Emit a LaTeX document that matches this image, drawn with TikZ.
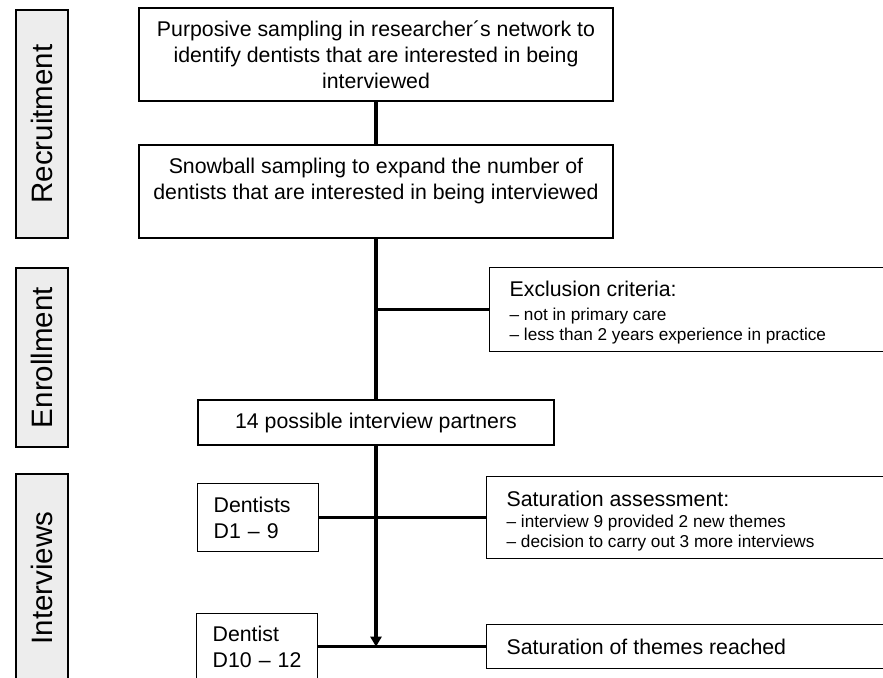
\documentclass[tikz,border=0pt]{standalone}
\usepackage{fontspec}
\setmainfont{Liberation Sans}
\usetikzlibrary{arrows.meta}

\tikzset{
  stagebox/.style={draw, line width=1.4pt, fill=black!7, rotate=90, minimum height=52pt,
    inner sep=0pt, font=\fontsize{29.5}{34}\selectfont},
  box/.style={draw, line width=1.3pt, inner sep=0pt, font=\fontsize{21.3}{26}\selectfont},
  sidebox/.style={box, anchor=north west, align=left, inner xsep=15pt,
    execute at begin node={\spaceskip=0pt\xspaceskip=0pt}},
  conn/.style={line width=3.5pt},
}
\newcommand{\listfont}{\fontsize{17.2}{20}\selectfont\spaceskip=0pt\xspaceskip=0pt}
\newcommand{\itemlist}[1]{{\listfont\begin{tabular}[t]{@{}l@{}}#1\end{tabular}}}

\begin{document}
\begin{tikzpicture}[x=1pt,y=-1pt]
\useasboundingbox (0,0) rectangle (883,677);
\clip (0,0) rectangle (883,677);

% stages
\node[stagebox, minimum width=228pt] (recruit) at (42,124) {Recruitment};
\node[stagebox, minimum width=179pt] (enroll) at (42,357.5) {Enrollment};
\node[stagebox, minimum width=208pt] (interv) at (42,578) {Interviews};

% main column
\node[box, minimum width=474pt, minimum height=93pt, align=center] (purposive) at (376,54.5)
  {Purposive sampling in researcher´s network to\\identify dentists that are interested in being\\interviewed};
\node[box, minimum width=474pt, minimum height=93pt, align=center] (snowball) at (376,191.5)
  {Snowball sampling to expand the number of\\dentists that are interested in being interviewed\\\mbox{}};
\node[box, minimum width=356pt, minimum height=45pt] (partners) at (376,422.5)
  {14 possible interview partners};

\node[box, anchor=north west, minimum width=120pt, minimum height=68pt, text width=89pt,
  align=left, inner xsep=16pt] (dentA) at (197,483) {Dentists\\D1 -- 9};
\node[box, anchor=north west, minimum width=120pt, minimum height=66pt, text width=89pt,
  align=left, inner xsep=16pt] (dentB) at (196,613) {Dentist\\D10 -- 12};

% right column
\node[sidebox, minimum width=430pt, minimum height=84pt, text width=390pt] (exclusion) at (489,267)
  {\rule{0pt}{23pt}Exclusion criteria:\\[-2pt]\itemlist{-- not in primary care\\-- less than 2 years experience in practice}};
\node[sidebox, minimum width=430pt, minimum height=82pt, text width=390pt, inner xsep=16pt] (assess) at (486,476)
  {\rule{0pt}{25pt}Saturation assessment:\\[-5pt]\itemlist{-- interview 9 provided 2 new themes\\-- decision to carry out 3 more interviews}};
\node[sidebox, minimum width=430pt, minimum height=44pt, text width=390pt, inner xsep=16pt] (themes) at (486,624)
  {Saturation of themes reached};

% connectors
\draw[conn] (purposive) -- (snowball);
\draw[conn] (snowball) -- (partners);
\draw[conn] (exclusion.west) -- (exclusion.west -| snowball.south);
\draw[conn, -{Triangle[width=11pt,length=10pt]}] (partners.south) -- (partners.south |- themes.west);
\draw[conn] (dentA.east) -- (assess.west);
\draw[conn] (dentB.east) -- (themes.west);
\end{tikzpicture}
\end{document}
